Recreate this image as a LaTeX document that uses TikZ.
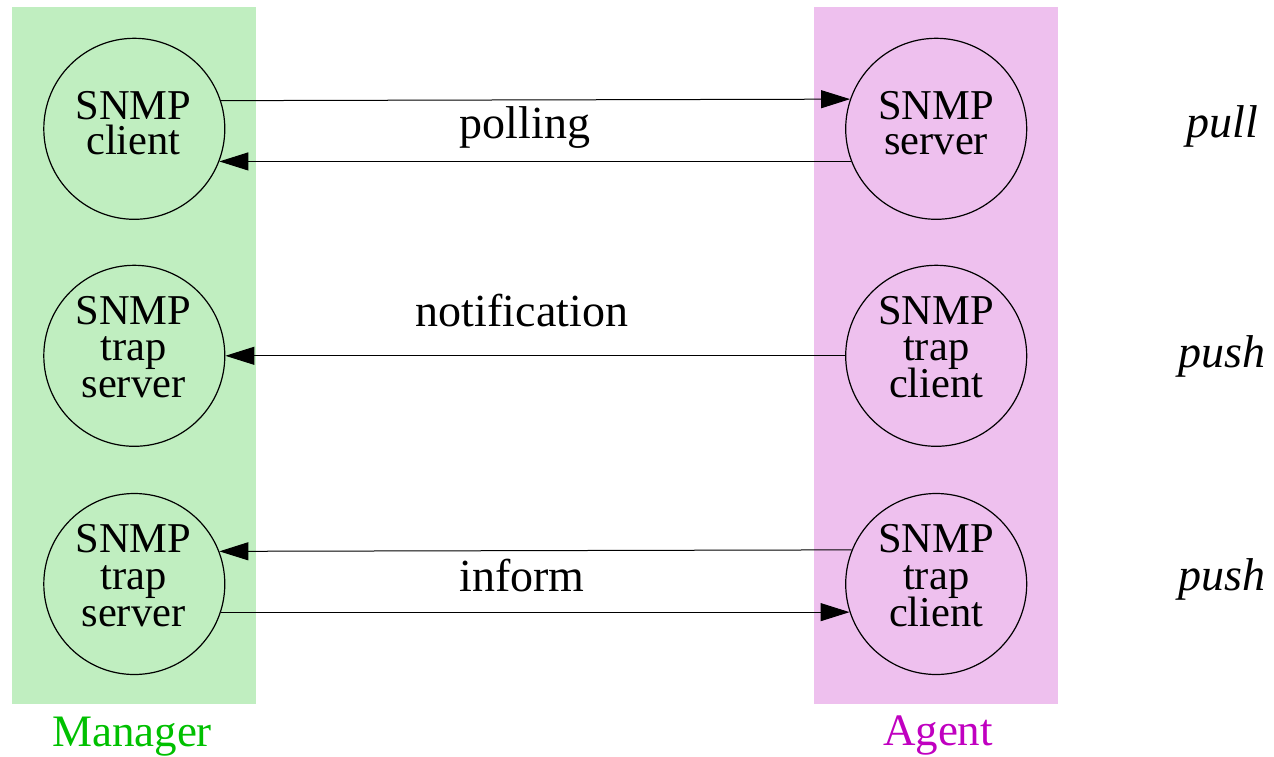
\documentclass[tikz,border=0pt]{standalone}
\usepackage{fontspec}
\setmainfont{Liberation Serif}
\usetikzlibrary{arrows.meta}
\definecolor{mgrfill}{RGB}{192,238,192}
\definecolor{agtfill}{RGB}{238,192,238}
\definecolor{mgrtext}{RGB}{0,192,0}
\definecolor{agttext}{RGB}{192,0,192}
\tikzset{
  ent/.style={circle, draw=black, line width=1.2pt, minimum size=181pt, inner sep=0pt},
  ntxt/.style={anchor=base, inner sep=0pt, font=\fontsize{42.5}{42.5}\selectfont},
  elbl/.style={anchor=base, inner sep=0pt, font=\fontsize{46}{46}\selectfont},
  modelbl/.style={anchor=base, inner sep=0pt, font=\fontsize{46}{46}\selectfont\itshape},
  sidelbl/.style={anchor=base, inner sep=0pt, font=\fontsize{45}{45}\selectfont},
  conn/.style={line width=1pt, -{Triangle[length=29pt,width=18pt]}},
}
\begin{document}
\begin{tikzpicture}[x=1pt,y=-1pt]
\useasboundingbox (0,0) rectangle (1274,757);
% columns
\fill[mgrfill] (12.3,7.3) rectangle (256,704);
\fill[agtfill] (814.3,7.3) rectangle (1057.7,704);
% entity circles
\node[ent] (m1) at (134.3,128.8) {};
\node[ent] (m2) at (134.3,355.8) {};
\node[ent] (m3) at (134.3,584) {};
\node[ent] (a1) at (936.2,128.8) {};
\node[ent] (a2) at (936.2,355.8) {};
\node[ent] (a3) at (936.2,584) {};
% texts in circles
\node[ntxt] (m1l1) at (133.5,119.3) {SNMP};
\node[ntxt] (m1l2) at (133.5,154) {client};
\node[ntxt] (m2l1) at (133.5,324) {SNMP};
\node[ntxt] (m2l2) at (133.5,360) {trap};
\node[ntxt] (m2l3) at (133.5,397) {server};
\node[ntxt] (m3l1) at (133.5,552) {SNMP};
\node[ntxt] (m3l2) at (133.5,589) {trap};
\node[ntxt] (m3l3) at (133.5,626) {server};
\node[ntxt] (a1l1) at (936.2,119.3) {SNMP};
\node[ntxt] (a1l2) at (936.2,154) {server};
\node[ntxt] (a2l1) at (936.2,324) {SNMP};
\node[ntxt] (a2l2) at (936.2,360) {trap};
\node[ntxt] (a2l3) at (936.2,397) {client};
\node[ntxt] (a3l1) at (936.2,552) {SNMP};
\node[ntxt] (a3l2) at (936.2,589) {trap};
\node[ntxt] (a3l3) at (936.2,626) {client};
% connectors
\draw[conn] (m1.18.5) -- (a1.161.5);
\draw[conn] (a1.201.7) -- (m1.-21.7);
\draw[conn] (a2.west) -- (m2.east);
\draw[conn] (a3.158.5) -- (m3.21.5);
\draw[conn] (m3.-18.4) -- (a3.198.4);
% edge labels
\node[elbl] (lpoll) at (525,138.3) {polling};
\node[elbl] (lnotif) at (522,326) {notification};
\node[elbl] (linform) at (522,591) {inform};
% mode labels
\node[modelbl] (mpull) at (1222,137.3) {pull};
\node[modelbl] (mpush1) at (1222,367) {push};
\node[modelbl] (mpush2) at (1222,590) {push};
% column labels
\node[sidelbl, text=mgrtext] (lmgr) at (132,746) {Manager};
\node[sidelbl, text=agttext] (lagt) at (938,745) {Agent};
\end{tikzpicture}
\end{document}
